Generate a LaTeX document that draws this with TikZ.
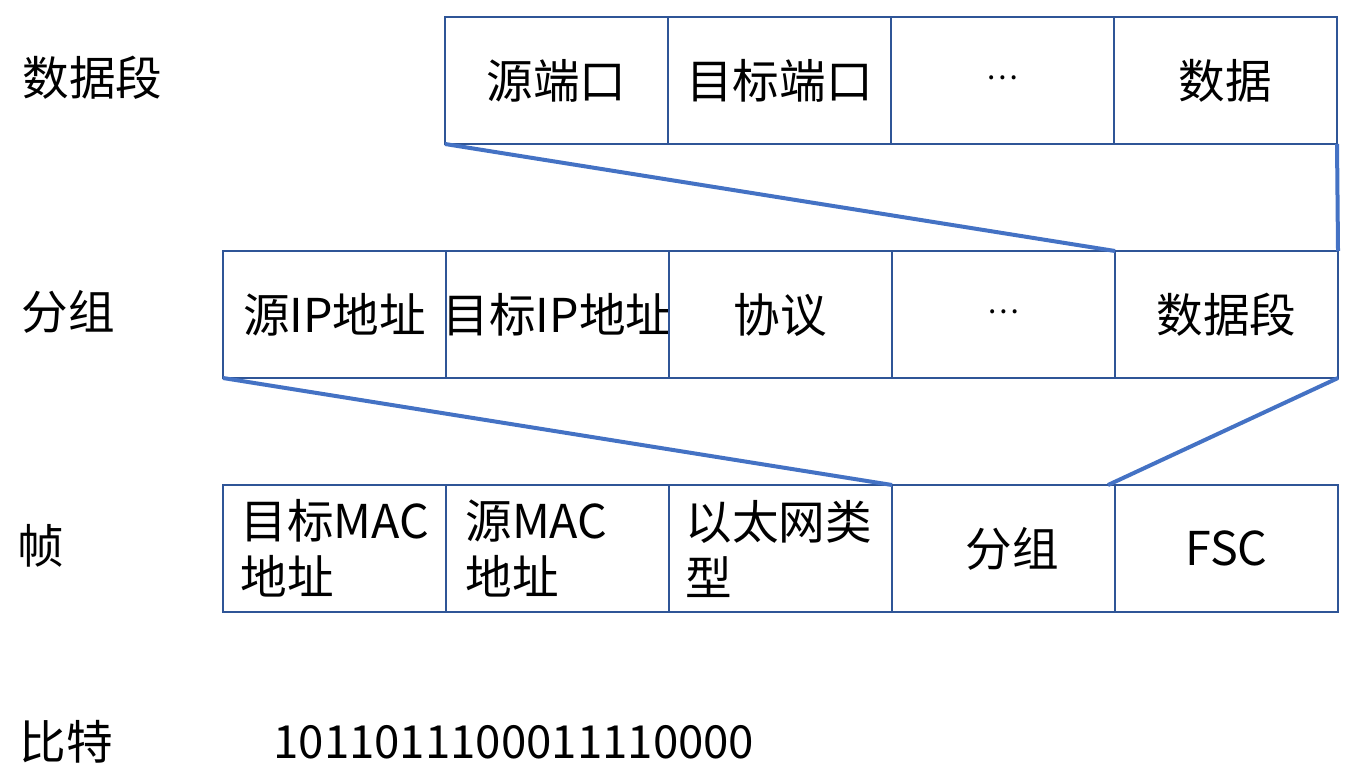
\documentclass[tikz,border=0pt]{standalone}
\usepackage{fontspec}
\setmainfont{Noto Sans CJK SC}
\usetikzlibrary{positioning}
\definecolor{CellBlue}{RGB}{47,85,151}
\definecolor{LinkBlue}{RGB}{68,114,196}
\newcommand{\moredots}{\raisebox{3pt}{\fontsize{15}{15}\selectfont …}}

\begin{document}
\begin{tikzpicture}[
x=0.5pt,y=-0.5pt,
node distance=0pt,
cell/.style={
rectangle,draw=CellBlue,line width=0.8pt,
minimum width=111.5pt,minimum height=63.5pt,
inner sep=0pt,outer sep=0pt,font=\fontsize{23.3}{28}\selectfont
},
layer/.style={anchor=west,inner sep=0pt,font=\fontsize{23.3}{28}\selectfont},
twoline/.style={layer,align=left},
link/.style={draw=LinkBlue,line width=2pt}
]

\useasboundingbox (0,0) rectangle (1358,780);

% row labels
\node[layer] (lseg) at (22,78) {数据段};
\node[layer] (lpkt) at (21,312) {分组};
\node[layer] (lfrm) at (17,546) {帧};
\node[layer] (lbit) at (19,742) {比特};

% data segment
\node[cell] (seg1) at (556.5,80.5) {源端口};
\node[cell,right=of seg1] (seg2) {目标端口};
\node[cell,right=of seg2] (seg3) {\moredots};
\node[cell,right=of seg3] (seg4) {数据};

% packet
\node[cell] (pkt1) at (334.5,314.5) {源IP地址};
\node[cell,right=of pkt1] (pkt2) {\makebox[0pt]{目标IP地址}};
\node[cell,right=of pkt2] (pkt3) {协议};
\node[cell,right=of pkt3] (pkt4) {\moredots};
\node[cell,right=of pkt4] (pkt5) {数据段};

% frame
\node[cell] (frm1) at (334.5,548.5) {};
\node[cell,right=of frm1] (frm2) {};
\node[cell,right=of frm2] (frm3) {};
\node[cell,right=of frm3] (frm4) {\hspace{9pt}分组};
\node[cell,right=of frm4] (frm5) {FSC\hspace{8pt}};
\node[twoline] (frm1t) at ([xshift=8.5pt]frm1.west) {\makebox[0pt][l]{目标MAC}\hspace{95pt}\\地址};
\node[twoline] (frm2t) at ([xshift=9.5pt]frm2.west) {源MAC\\地址};
\node[twoline] (frm3t) at ([xshift=8pt]frm3.west) {以太网类\\型};

% bits
\node[layer,font=\fontsize{22.8}{28}\selectfont] (bits) at (273,742) {1011011100011110000};

\draw[link] (seg1.south west)--(pkt5.north west);
\draw[link] (seg4.south east)--(pkt5.north east);
\draw[link] (pkt1.south west)--(frm4.north west);
\draw[link] (pkt5.south east)--([xshift=-3.5pt]frm5.north west);

\end{tikzpicture}
\end{document}
